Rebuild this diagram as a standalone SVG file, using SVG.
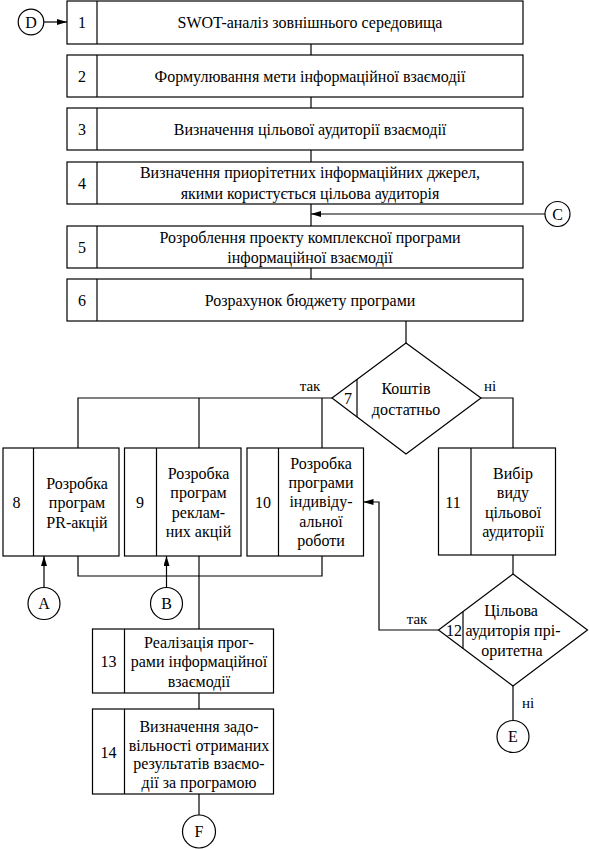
<svg xmlns="http://www.w3.org/2000/svg" width="589" height="849" viewBox="0 0 589 849">
<style>
.b{fill:#fff;stroke:#000;stroke-width:1.2}
.l{fill:none;stroke:#000;stroke-width:1.2}
text{font-family:'Liberation Serif','Times New Roman','DejaVu Serif',serif;font-size:16px;fill:#000;text-anchor:middle;dominant-baseline:central}
.s{font-size:15px}
</style>
<defs>
<marker id="ah" viewBox="0 0 10 6" refX="10" refY="3" markerWidth="10" markerHeight="6" markerUnits="userSpaceOnUse" orient="auto">
<path d="M0,0 L10,3 L0,6 Z" fill="#000"/>
</marker>
</defs>
<rect width="589" height="849" fill="#fff"/>
<g id="connectors">
<line class="l" x1="311" y1="44" x2="311" y2="55"/>
<line class="l" x1="311" y1="97" x2="311" y2="108"/>
<line class="l" x1="311" y1="150" x2="311" y2="162"/>
<line class="l" x1="311" y1="204" x2="311" y2="226"/>
<line class="l" x1="311" y1="268" x2="311" y2="279"/>
<line class="l" x1="545" y1="214" x2="311" y2="214" marker-end="url(#ah)"/>
<line class="l" x1="44" y1="22" x2="67" y2="22" marker-end="url(#ah)"/>
<line class="l" x1="406" y1="321" x2="406" y2="343"/>
<polyline class="l" points="78,448 78,398 332,398"/>
<line class="l" x1="199" y1="398" x2="199" y2="448"/>
<line class="l" x1="322" y1="398" x2="322" y2="448"/>
<polyline class="l" points="481,398 513,398 513,448"/>
<line class="l" x1="513" y1="555" x2="513" y2="574"/>
<polyline class="l" points="78,556 78,576 322,576 322,556"/>
<line class="l" x1="199" y1="556" x2="199" y2="629"/>
<line class="l" x1="44" y1="587" x2="44" y2="556" marker-end="url(#ah)"/>
<line class="l" x1="166.5" y1="587" x2="166.5" y2="556" marker-end="url(#ah)"/>
<polyline class="l" points="438.5,630 379,630 379,502 363.5,502" marker-end="url(#ah)"/>
<line class="l" x1="513" y1="686" x2="513" y2="720.5"/>
<line class="l" x1="199" y1="693" x2="199" y2="709"/>
<line class="l" x1="199" y1="794" x2="199" y2="815"/>
<text class="s" x="310" y="386">так</text>
<text class="s" x="490" y="386">ні</text>
<text class="s" x="417" y="619">так</text>
<text class="s" x="528" y="703">ні</text>
</g>
<g id="D"><circle class="b" cx="31" cy="22" r="12.8"/><text x="31" y="22">D</text></g>
<g id="C"><circle class="b" cx="557.5" cy="214" r="12.5"/><text x="557.5" y="214">C</text></g>
<g id="n1"><rect class="b" x="67" y="1" width="456" height="43"/><line class="l" x1="97" y1="1" x2="97" y2="44"/><text x="82" y="22.5">1</text><text x="310" y="22.5">SWOT-аналіз зовнішнього середовища</text></g>
<g id="n2"><rect class="b" x="67" y="55" width="456" height="42"/><line class="l" x1="97" y1="55" x2="97" y2="97"/><text x="82" y="76">2</text><text x="310" y="76">Формулювання мети інформаційної взаємодії</text></g>
<g id="n3"><rect class="b" x="67" y="108" width="456" height="42"/><line class="l" x1="97" y1="108" x2="97" y2="150"/><text x="82" y="129">3</text><text x="310" y="129">Визначення цільової аудиторії взаємодії</text></g>
<g id="n4"><rect class="b" x="67" y="162" width="456" height="42"/><line class="l" x1="97" y1="162" x2="97" y2="204"/><text x="82" y="183">4</text><text x="310" y="172">Визначення приорітетних інформаційних джерел,</text><text x="310" y="193">якими користується цільова аудиторія</text></g>
<g id="n5"><rect class="b" x="67" y="226" width="456" height="42"/><line class="l" x1="97" y1="226" x2="97" y2="268"/><text x="82" y="247">5</text><text x="310" y="237">Розроблення проекту комплексної програми</text><text x="310" y="257">інформаційної взаємодії</text></g>
<g id="n6"><rect class="b" x="67" y="279" width="456" height="42"/><line class="l" x1="97" y1="279" x2="97" y2="321"/><text x="82" y="300">6</text><text x="310" y="300">Розрахунок бюджету програми</text></g>
<g id="n7"><polygon class="b" points="406,343 481,398 406,454 332,398"/><line class="l" x1="357" y1="379" x2="357" y2="417"/><text x="348" y="398">7</text><text x="406" y="388">Коштів</text><text x="406" y="409">достатньо</text></g>
<g id="n8"><rect class="b" x="3" y="448" width="116" height="108"/><line class="l" x1="33.5" y1="448" x2="33.5" y2="556"/><text x="16.5" y="502">8</text><text x="77" y="483">Розробка</text><text x="77" y="502.5">програм</text><text x="77" y="522">PR-акцій</text></g>
<g id="n9"><rect class="b" x="124.5" y="448" width="116.5" height="108"/><line class="l" x1="156.5" y1="448" x2="156.5" y2="556"/><text x="140" y="502">9</text><text x="198.5" y="473">Розробка</text><text x="198.5" y="492.5">програм</text><text x="198.5" y="512">реклам-</text><text x="198.5" y="531.5">них акцій</text></g>
<g id="n10"><rect class="b" x="247" y="448" width="116.5" height="108"/><line class="l" x1="278.5" y1="448" x2="278.5" y2="556"/><text x="263" y="502">10</text><text x="321" y="463">Розробка</text><text x="321" y="482">програми</text><text x="321" y="501.5">індивіду-</text><text x="321" y="521">альної</text><text x="321" y="540.5">роботи</text></g>
<g id="n11"><rect class="b" x="438.5" y="448" width="117" height="107"/><line class="l" x1="471" y1="448" x2="471" y2="555"/><text x="453" y="502">11</text><text x="513" y="473">Вибір</text><text x="513" y="492.5">виду</text><text x="513" y="512">цільової</text><text x="513" y="531">аудиторії</text></g>
<g id="n12"><polygon class="b" points="513,574 587.5,630 513,686 438.5,630"/><line class="l" x1="463" y1="611.6" x2="463" y2="648.4"/><text x="454" y="630">12</text><text x="511" y="610">Цільова</text><text x="513" y="630">аудиторія прі-</text><text x="512" y="650">оритетна</text></g>
<g id="n13"><rect class="b" x="92.5" y="629" width="181" height="64"/><line class="l" x1="124.5" y1="629" x2="124.5" y2="693"/><text x="108.5" y="661.5">13</text><text x="199" y="642">Реалізація прог-</text><text x="199" y="661.5">рами інформаційної</text><text x="199" y="681">взаємодії</text></g>
<g id="n14"><rect class="b" x="92.5" y="709" width="181" height="85"/><line class="l" x1="124.5" y1="709" x2="124.5" y2="794"/><text x="108.5" y="752">14</text><text x="199" y="726.5">Визначення задо-</text><text x="199" y="745">вільності отриманих</text><text x="199" y="763.5">результатів взаємо-</text><text x="199" y="782">дії за програмою</text></g>
<g id="A"><circle class="b" cx="44" cy="603.5" r="16"/><text x="44" y="603.5">A</text></g>
<g id="B"><circle class="b" cx="166.5" cy="603.5" r="16"/><text x="166.5" y="603.5">B</text></g>
<g id="E"><circle class="b" cx="513" cy="736.5" r="16"/><text x="513" y="736.5">E</text></g>
<g id="F"><circle class="b" cx="199" cy="831.5" r="16.5"/><text x="199" y="831.5">F</text></g>
</svg>
